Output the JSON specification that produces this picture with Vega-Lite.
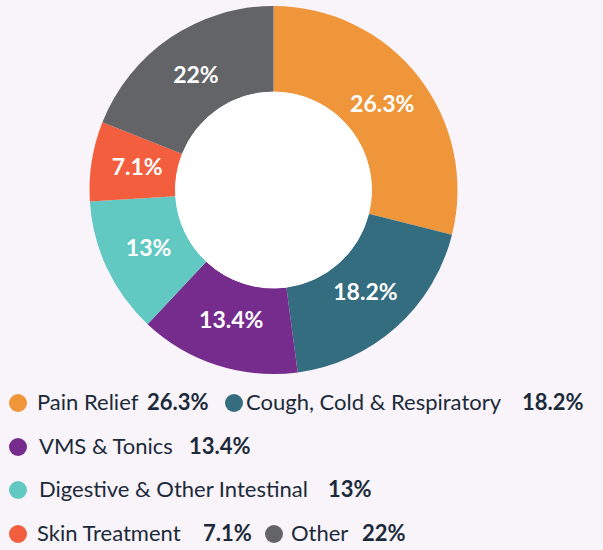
{
  "$schema": "https://vega.github.io/schema/vega-lite/v6.json",
  "width": 547,
  "height": 380,
  "autosize": {"type": "none"},
  "padding": {"left": 0, "top": 0, "right": 56, "bottom": 170},
  "background": "#F9F4F9",
  "data": {
    "values": [
      {"k": 1, "cat": "Pain Relief", "share": 28.9, "pct": "26.3%"},
      {"k": 2, "cat": "Cough, Cold & Respiratory", "share": 19.0, "pct": "18.2%"},
      {"k": 3, "cat": "VMS & Tonics", "share": 14.1, "pct": "13.4%"},
      {"k": 4, "cat": "Digestive & Other Intestinal", "share": 12.0, "pct": "13%"},
      {"k": 5, "cat": "Skin Treatment", "share": 7.0, "pct": "7.1%"},
      {"k": 6, "cat": "Other", "share": 19.0, "pct": "22%"}
    ]
  },
  "config": {
    "view": {"stroke": null},
    "legend": {
      "labelFont": "Lato",
      "labelFontSize": 22,
      "labelColor": "#1B2A3A",
      "titleFont": "Lato",
      "titleFontSize": 22,
      "titleFontWeight": "bold",
      "titleColor": "#1B2A3A",
      "symbolSize": 324,
      "symbolType": "circle",
      "symbolStrokeWidth": 0,
      "symbolOpacity": 1,
      "labelLimit": 400,
      "titleLimit": 200,
      "padding": 0,
      "titleOrient": "right",
      "titleAnchor": "middle",
      "titleBaseline": "middle"
    }
  },
  "layer": [
    {
      "mark": {"type": "arc", "innerRadius": 98, "outerRadius": 184},
      "encoding": {
        "theta": {"field": "share", "type": "quantitative", "stack": true},
        "order": {"field": "k", "type": "quantitative"},
        "color": {
          "field": "cat",
          "type": "nominal",
          "scale": {
            "domain": ["Pain Relief", "Cough, Cold & Respiratory", "VMS & Tonics", "Digestive & Other Intestinal", "Skin Treatment", "Other"],
            "range": ["#F0963A", "#346C80", "#762C8C", "#61C8C2", "#F25E3E", "#636468"]
          },
          "legend": null
        }
      }
    },
    {
      "mark": {"type": "arc", "innerRadius": 0, "outerRadius": 98, "fill": "white", "stroke": "white", "strokeWidth": 1},
      "encoding": {
        "theta": {"field": "share", "type": "quantitative", "stack": true},
        "order": {"field": "k", "type": "quantitative"},
        "detail": {"field": "cat", "type": "nominal"}
      }
    },
    {
      "mark": {"type": "text", "radius": 138, "fill": "white", "font": "Lato", "fontSize": 23, "fontWeight": "bold", "align": "center", "baseline": "middle"},
      "encoding": {
        "theta": {"field": "share", "type": "quantitative", "stack": true},
        "order": {"field": "k", "type": "quantitative"},
        "detail": {"field": "cat", "type": "nominal"},
        "text": {"field": "pct", "type": "nominal"}
      }
    },
    {
      "transform": [{"filter": {"field": "cat", "equal": "Pain Relief"}}],
      "mark": {"type": "circle", "opacity": 0},
      "encoding": {
        "color": {"field": "cat", "type": "nominal", "scale": {"domain": ["Pain Relief"], "range": ["#F0963A"]},
          "legend": {"title": "26.3%", "orient": "none", "legendX": 7, "legendY": 392, "labelOffset": 8, "titlePadding": 9}}
      }
    },
    {
      "transform": [{"filter": {"field": "cat", "equal": "Cough, Cold & Respiratory"}}],
      "mark": {"type": "circle", "opacity": 0},
      "encoding": {
        "color": {"field": "cat", "type": "nominal", "scale": {"domain": ["Cough, Cold & Respiratory"], "range": ["#346C80"]},
          "legend": {"title": "18.2%", "orient": "none", "legendX": 223, "legendY": 392, "labelOffset": 1, "titlePadding": 21}}
      }
    },
    {
      "transform": [{"filter": {"field": "cat", "equal": "VMS & Tonics"}}],
      "mark": {"type": "circle", "opacity": 0},
      "encoding": {
        "color": {"field": "cat", "type": "nominal", "scale": {"domain": ["VMS & Tonics"], "range": ["#762C8C"]},
          "legend": {"title": "13.4%", "orient": "none", "legendX": 7, "legendY": 436, "labelOffset": 10, "titlePadding": 15}}
      }
    },
    {
      "transform": [{"filter": {"field": "cat", "equal": "Digestive & Other Intestinal"}}],
      "mark": {"type": "circle", "opacity": 0},
      "encoding": {
        "color": {"field": "cat", "type": "nominal", "scale": {"domain": ["Digestive & Other Intestinal"], "range": ["#61C8C2"]},
          "legend": {"title": "13%", "orient": "none", "legendX": 7, "legendY": 479, "labelOffset": 10, "titlePadding": 20}}
      }
    },
    {
      "transform": [{"filter": {"field": "cat", "equal": "Skin Treatment"}}],
      "mark": {"type": "circle", "opacity": 0},
      "encoding": {
        "color": {"field": "cat", "type": "nominal", "scale": {"domain": ["Skin Treatment"], "range": ["#F25E3E"]},
          "legend": {"title": "7.1%", "orient": "none", "legendX": 7, "legendY": 523, "labelOffset": 8, "titlePadding": 22}}
      }
    },
    {
      "transform": [{"filter": {"field": "cat", "equal": "Other"}}],
      "mark": {"type": "circle", "opacity": 0},
      "encoding": {
        "color": {"field": "cat", "type": "nominal", "scale": {"domain": ["Other"], "range": ["#636468"]},
          "legend": {"title": "22%", "orient": "none", "legendX": 263, "legendY": 523, "labelOffset": 6, "titlePadding": 14}}
      }
    }
  ],
  "resolve": {"scale": {"color": "independent"}}
}
